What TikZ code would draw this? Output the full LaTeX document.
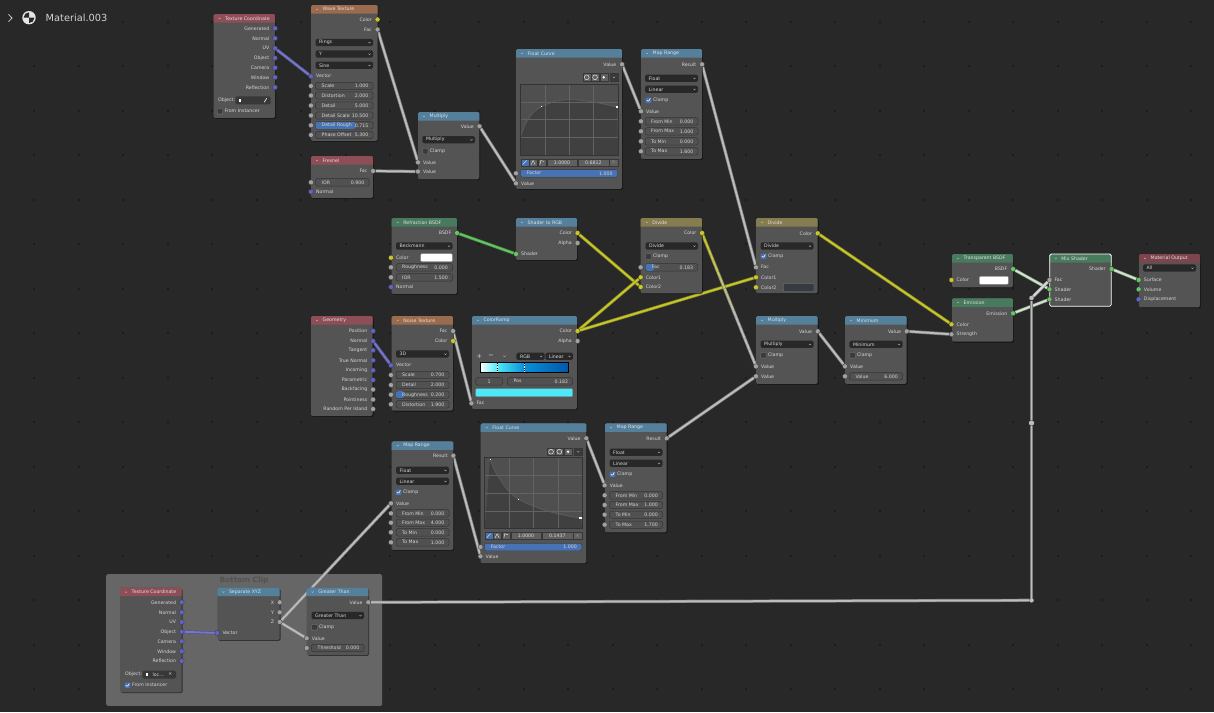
\documentclass[tikz,border=0pt]{standalone}
\usepackage{fontspec}
\setmainfont{DejaVu Sans}
\usetikzlibrary{calc,shadows}
\pgfdeclarelayer{backdrop}
\pgfdeclarelayer{wires}
\pgfsetlayers{backdrop,wires,main}
\definecolor{bgc}{HTML}{282828}
\definecolor{griddot}{HTML}{1C1C1C}
\definecolor{framec}{HTML}{666666}
\definecolor{panelc}{HTML}{545454}
\definecolor{hdred}{HTML}{8F4D58}
\definecolor{hdbrown}{HTML}{9A6B4C}
\definecolor{hdblue}{HTML}{55809C}
\definecolor{hdgreen}{HTML}{487A5D}
\definecolor{hdolive}{HTML}{857D4F}
\definecolor{hdout}{HTML}{7E444E}
\definecolor{valc}{HTML}{A1A1A1}
\definecolor{colc}{HTML}{C7C729}
\definecolor{vecc}{HTML}{6363C7}
\definecolor{shc}{HTML}{63C763}
\definecolor{wirec}{HTML}{BDBDBD}
\definecolor{sliderc}{HTML}{4772B3}
\definecolor{palegreen}{HTML}{CFE8CB}
\definecolor{darkswatch}{HTML}{363B42}
\definecolor{rampA}{HTML}{4EE9F9}
\definecolor{rampB}{HTML}{0A8FD8}
\definecolor{rampC}{HTML}{0058AC}
\newcommand{\nodepanel}[7]{
	\node[panelbox,minimum width=#4pt,minimum height=#5pt] (#1) at (#2,#3) {};
	\fill[#6] ([yshift=-8.5pt]#1.north west) [rounded corners=1.5pt] -- (#1.north west) --
	(#1.north east) [sharp corners] -- ([yshift=-8.5pt]#1.north east) -- cycle;
	\node[txt,text=white!88!black,anchor=west] (#1t) at ([xshift=11.5pt,yshift=-4.3pt]#1.north west) {#7};
	\draw[chevline] ([xshift=5pt,yshift=-3.8pt]#1.north west) -- ([xshift=6pt,yshift=-4.8pt]#1.north west) --
	([xshift=7pt,yshift=-3.8pt]#1.north west);
}
\newcommand{\outsock}[5]{
	\node[socket,fill=#4] (#1) at (#2,#3) {};
	\node[txt,anchor=east] (#1l) at ([xshift=-5.5pt]#1.center) {#5};
}
\newcommand{\insock}[5]{
	\node[socket,fill=#4] (#1) at (#2,#3) {};
	\node[txt,anchor=west] (#1l) at ([xshift=5pt]#1.center) {#5};
}
\newcommand{\fieldrow}[7][0]{
	\node[fieldbox,minimum width={(#4-#3)*1pt}] (#2) at (#3,#5) {};
	\ifdim#1pt>0pt \fill[sliderc,rounded corners=2pt] (#3,#5-3.5) rectangle (#1,#5+3.5);\fi
	\node[txt,anchor=west] (#2l) at ([xshift=6pt]#2.west) {#6};
	\node[txt,anchor=east] (#2v) at ([xshift=-4.5pt]#2.east) {#7};
}
\newcommand{\valrow}[8][0]{
	\node[socket,fill=valc] (#2s) at (#3,#6) {};
	\fieldrow[#1]{#2}{#4}{#5}{#6}{#7}{#8}
}
\newcommand{\droprow}[5]{
	\node[dropbox,minimum width={(#3-#2)*1pt}] (#1) at (#2,#4) {};
	\node[txt,anchor=west] (#1l) at ([xshift=3.5pt]#1.west) {#5};
	\draw[chevline] ([xshift=-4.5pt,yshift=.4pt]#1.east) -- ([xshift=-3.5pt,yshift=-.6pt]#1.east) --
	([xshift=-2.5pt,yshift=.4pt]#1.east);
}
\newcommand{\checkrow}[5]{
	\node[#5] (#1) at (#2,#3) {};
	\node[txt,anchor=west] (#1l) at ([xshift=1.5pt]#1.east) {#4};
}
\newcommand{\swatch}[5]{
	\node[swatchbox,fill=#5,minimum width={(#3-#2)*1pt}] (#1) at (#2,#4) {};
}
\newcommand{\objrow}[6]{
	\node[txt,anchor=west] (#1l) at (#2,#5) {Object:};
	\node[dropbox,fill=black!78,minimum width={(#4-#3)*1pt},minimum height=8pt] (#1) at (#3,#5) {};
	\node[cubedot] (#1i) at ([xshift=4.5pt]#1.west) {};
	\node[txt,anchor=west] (#1n) at ([xshift=10pt]#1.west) {#6};
}
\newcommand{\curvearea}[6]{
	\node[curvebox,minimum width={(#4-#2)*1pt},minimum height={(#5-#3)*1pt}] (#1) at (#2,#3) {};
	\fill[black!24!panelc] #6 -- (#1.south east) -- (#1.south west) -- cycle;
	\foreach \k in {.25,.5,.75} {
		\draw[gridline] ($(#1.north west)!\k!(#1.north east)$) -- ($(#1.south west)!\k!(#1.south east)$);
		\draw[gridline] ($(#1.north west)!\k!(#1.south west)$) -- ($(#1.north east)!\k!(#1.south east)$);
	}
	\draw[black!62,line width=.6pt] #6;
	\draw[black!80,line width=.7pt] (#1.north west) rectangle (#1.south east);
}
\newcommand{\curvetools}[3]{
	\node[toolbtn,minimum width=8pt] (#1a) at (#2-35.3,#3) {};
	\node[toolbtn,minimum width=8pt] (#1b) at (#2-27,#3) {};
	\node[toolbtn,minimum width=8pt] (#1c) at (#2-18.3,#3) {};
	\node[toolbtn,fill=black!32!panelc,minimum width=8pt] (#1d) at (#2-8,#3) {};
	\draw[white,line width=.35pt] (#1a.center) circle[radius=2.4pt] (#1b.center) circle[radius=2.4pt];
	\fill[white] (#1c.center) circle[radius=1.3pt];
	\draw[chevline] ([xshift=-1pt,yshift=.5pt]#1d.center) -- ([yshift=-.5pt]#1d.center) -- ([xshift=1pt,yshift=.5pt]#1d.center);
}
\newcommand{\curvebtns}[5]{
	\node[toolbtn,fill=sliderc,minimum width=8pt] (#1a) at (#2,#3) {};
	\node[toolbtn,minimum width=8.3pt] (#1b) at (#2+8.3,#3) {};
	\node[toolbtn,minimum width=8.3pt] (#1c) at (#2+17,#3) {};
	\node[toolbtn,minimum width=30.6pt] (#1d) at (#2+26,#3) {#4};
	\node[toolbtn,minimum width=31.3pt] (#1e) at (#2+57,#3) {#5};
	\node[toolbtn,text=white!60!black,minimum width=8.4pt] (#1f) at (#2+88.6,#3) {×};
	\draw[white,line width=.35pt] ([xshift=-2pt,yshift=-2pt]#1a.center) -- ([xshift=2pt,yshift=2pt]#1a.center);
	\draw[white,line width=.35pt] ([xshift=-2pt,yshift=-2pt]#1b.center) -- ([yshift=2pt]#1b.center) -- ([xshift=2pt,yshift=-2pt]#1b.center);
	\draw[white,line width=.35pt] ([xshift=-2pt,yshift=-2pt]#1c.center) -- ([xshift=-1pt,yshift=2pt]#1c.center) -- ([xshift=2pt,yshift=1pt]#1c.center);
}
\newcommand{\gradwire}[4]{
	\foreach \i in {0,...,23} {
		\pgfmathsetmacro\ta{\i/24}
		\pgfmathsetmacro\tb{(\i+1)/24}
		\pgfmathsetmacro\mv{min(100,100*\i/15)}
		\draw[wire=#4!\mv!#3] ($(#1.center)!\ta!(#2.center)$) -- ($(#1.center)!\tb!(#2.center)$);
	}
}
\begin{document}
\begin{tikzpicture}[x=1pt,y=-1pt,
	txt/.style={inner sep=0pt,text=white!84!black,font=\fontsize{4.7}{5}\selectfont},
	panelbox/.style={anchor=north west,inner sep=0pt,outer sep=0pt,fill=panelc,rounded corners=1.5pt,
		drop shadow={fill=black,opacity=.55,shadow xshift=.8pt,shadow yshift=-.8pt}},
	socket/.style={circle,draw=black!80,line width=.25pt,inner sep=0pt,minimum size=5pt},
	fieldbox/.style={anchor=west,inner sep=0pt,outer sep=0pt,minimum height=7.4pt,rounded corners=2pt,draw=black!38!panelc,line width=.5pt,fill=black!4!panelc},
	dropbox/.style={anchor=west,inner sep=0pt,outer sep=0pt,minimum height=7.2pt,rounded corners=1.5pt,fill=bgc},
	swatchbox/.style={anchor=west,inner sep=0pt,outer sep=0pt,minimum height=8pt,rounded corners=1pt,draw=black!50,line width=.3pt},
	chkoff/.style={inner sep=0pt,minimum size=5.6pt,rounded corners=.8pt,fill=black!30!panelc,draw=black!50,line width=.3pt},
	chkon/.style={inner sep=0pt,minimum size=5.6pt,rounded corners=.8pt,fill=sliderc,
		path picture={\draw[white,line width=.6pt] ([xshift=1.2pt]path picture bounding box.west) --
			([yshift=1.5pt]path picture bounding box.south) -- ([xshift=-1pt,yshift=-1pt]path picture bounding box.north east);}},
	chevline/.style={draw=white!75!black,line width=.35pt},
	curvebox/.style={anchor=north west,inner sep=0pt,outer sep=0pt,fill=black!6!panelc},
	gridline/.style={draw=white!9!panelc,line width=.45pt},
	toolbtn/.style={anchor=west,inner sep=0pt,outer sep=0pt,minimum height=7.6pt,fill=white!7!panelc,draw=black!35!panelc,line width=.3pt,
		text=white!84!black,font=\fontsize{4.7}{5}\selectfont},
	cubedot/.style={inner sep=0pt,minimum size=2.6pt,fill=white},
	reroute/.style={circle,inner sep=0pt,minimum size=4.6pt,fill=wirec},
	wire/.style={draw=#1,line width=1.8pt,preaction={draw=#1!58!bgc,line width=3.2pt}}]
	\useasboundingbox (0,0) rectangle (1214,712);
	\begin{pgfonlayer}{backdrop}
		\fill[bgc] (0,0) rectangle (1214,712);
		\foreach \dx in {0,...,26} {
			\foreach \dy in {0,...,15} {
				\fill[griddot] ({33.3+44.5*\dx},{20.5+44.5*\dy}) rectangle ++(2,2);
			}
		}
		\node[anchor=north west,inner sep=0pt,fill=framec,rounded corners=1.5pt,minimum width=276pt,minimum height=131.7pt] (clipframe) at (106,574) {};
		\node[inner sep=0pt,text=black!20!framec,font=\fontsize{7.4}{8}\selectfont\bfseries] (cliptitle) at (244,580.5) {Bottom Clip};
	\end{pgfonlayer}

	\draw[white!80!black,line width=.8pt] (8.5,14.3) -- (12,18) -- (8.5,21.7);
	\node[circle,fill=white!90!black,inner sep=0pt,minimum size=13.4pt] (matIcon) at (29,17.7) {};
	\fill[bgc] (matIcon.center) -- ++(-5.4,0) arc[start angle=180,end angle=90,radius=5.4pt] -- cycle;
	\fill[bgc] (matIcon.center) -- ++(5.4,0) arc[start angle=0,end angle=-90,radius=5.4pt] -- cycle;
	\node[inner sep=0pt,anchor=west,text=white!82!black,font=\fontsize{9.8}{11}\selectfont] (matName) at (45.5,18) {Material.003};

	\nodepanel{tcA}{213.5}{14}{61.5}{104}{hdred}{Texture Coordinate}
	\outsock{tcA-gen}{275}{28.3}{vecc}{Generated}
	\outsock{tcA-nor}{275}{38.3}{vecc}{Normal}
	\outsock{tcA-uv}{275}{48.3}{vecc}{UV}
	\outsock{tcA-obj}{275}{58}{vecc}{Object}
	\outsock{tcA-cam}{275}{67.7}{vecc}{Camera}
	\outsock{tcA-win}{275}{77.3}{vecc}{Window}
	\outsock{tcA-ref}{275}{87.3}{vecc}{Reflection}
	\objrow{tcA-o}{218}{235.3}{270.7}{100.3}{}
	\draw[white,line width=.6pt] ([xshift=-6.5pt,yshift=-2pt]tcA-o.east) -- ([xshift=-4pt,yshift=2pt]tcA-o.east);
	\checkrow{tcA-fi}{220}{111.3}{From Instancer}{chkoff}

	\nodepanel{wave}{311}{5}{66.5}{136}{hdbrown}{Wave Texture}
	\outsock{wave-col}{377.5}{19.5}{colc}{Color}
	\outsock{wave-fac}{377.5}{29.5}{valc}{Fac}
	\droprow{wave-a}{315.5}{373}{42.5}{Rings}
	\droprow{wave-b}{315.5}{373}{54}{Y}
	\droprow{wave-c}{315.5}{373}{65.3}{Sine}
	\insock{wave-vec}{311}{76.3}{vecc}{Vector}
	\valrow{wave-sc}{311}{315.5}{373}{86}{Scale}{1.000}
	\valrow{wave-di}{311}{315.5}{373}{95.5}{Distortion}{2.000}
	\valrow{wave-de}{311}{315.5}{373}{105.5}{Detail}{5.000}
	\valrow{wave-ds}{311}{315.5}{373}{115.5}{Detail Scale}{10.500}
	\valrow[355.5]{wave-dr}{311}{315.5}{373}{125.3}{Detail Rough}{0.715}
	\valrow{wave-po}{311}{315.5}{373}{135}{Phase Offset}{5.300}

	\nodepanel{fres}{311}{156}{62}{42}{hdred}{Fresnel}
	\outsock{fres-fac}{373}{171}{valc}{Fac}
	\valrow{fres-ior}{311}{315.5}{369}{182.3}{IOR}{0.900}
	\insock{fres-nor}{311}{191.7}{vecc}{Normal}

	\nodepanel{mulA}{418}{112}{61.3}{67.3}{hdblue}{Multiply}
	\outsock{mulA-out}{479.5}{126.3}{valc}{Value}
	\droprow{mulA-op}{422.3}{475}{139.7}{Multiply}
	\checkrow{mulA-cl}{425.3}{151.2}{Clamp}{chkoff}
	\insock{mulA-a}{418}{162.3}{valc}{Value}
	\insock{mulA-b}{418}{171.5}{valc}{Value}

	\nodepanel{fcA}{516}{49}{106}{140}{hdblue}{Float Curve}
	\outsock{fcA-out}{622}{64.3}{valc}{Value}
	\curvetools{fcA-t}{618}{77.3}
	\curvearea{fcA-g}{520.7}{84}{618}{155}{(520.7,136.7) .. controls (526,118) and (534,110) .. (541.7,106.7) .. controls (552,101.5) and (560,99.7) .. (569.3,99.7) .. controls (585,100) and (600,103) .. (617,107)}
	\node[cubedot] (fcA-p) at (617,107) {};
	\node[cubedot,minimum size=1pt] (fcA-q) at (541.7,106.7) {};
	\curvebtns{fcA-b}{520.7}{162.5}{1.0000}{0.6812}
	\valrow[617.3]{fcA-fac}{516}{520.7}{617.3}{173.3}{Factor}{1.000}
	\insock{fcA-val}{516}{183.3}{valc}{Value}

	\nodepanel{mrA}{641}{49}{61}{110}{hdblue}{Map Range}
	\outsock{mrA-out}{702}{64.3}{valc}{Result}
	\droprow{mrA-t}{645}{698}{78.3}{Float}
	\droprow{mrA-i}{645}{698}{89.3}{Linear}
	\checkrow{mrA-cl}{648.5}{100.3}{Clamp}{chkon}
	\insock{mrA-val}{641}{111.3}{valc}{Value}
	\valrow{mrA-fm}{641}{645}{698}{121.3}{From Min}{0.000}
	\valrow{mrA-fx}{641}{645}{698}{131.3}{From Max}{1.000}
	\valrow{mrA-tm}{641}{645}{698}{141.3}{To Min}{0.000}
	\valrow{mrA-tx}{641}{645}{698}{151.3}{To Max}{1.600}

	\nodepanel{refr}{391.7}{218}{65.3}{76}{hdgreen}{Refraction BSDF}
	\outsock{refr-out}{457}{233}{shc}{BSDF}
	\droprow{refr-d}{396}{452.5}{246}{Beckmann}
	\insock{refr-col}{391}{257.7}{colc}{Color}
	\swatch{refr-sw}{420.7}{452.3}{257.7}{white}
	\valrow{refr-ro}{391}{396}{452.5}{267.3}{Roughness}{0.000}
	\valrow{refr-ior}{391}{396}{452.5}{277.3}{IOR}{1.500}
	\insock{refr-nor}{391}{287}{vecc}{Normal}

	\nodepanel{srgb}{516}{218}{61}{42}{hdblue}{Shader to RGB}
	\outsock{srgb-col}{577.5}{233}{colc}{Color}
	\outsock{srgb-alp}{577.5}{243}{valc}{Alpha}
	\insock{srgb-sh}{516}{254}{shc}{Shader}

	\nodepanel{divA}{640.7}{218}{61.3}{75.3}{hdolive}{Divide}
	\outsock{divA-out}{702}{233}{colc}{Color}
	\droprow{divA-op}{645.5}{698}{246}{Divide}
	\checkrow{divA-cl}{648.5}{256.5}{Clamp}{chkoff}
	\valrow[654]{divA-fac}{640.7}{645.7}{697.7}{267.3}{Fac}{0.183}
	\insock{divA-a}{640.7}{277.3}{colc}{Color1}
	\insock{divA-b}{640.7}{287}{colc}{Color2}

	\nodepanel{geom}{311}{316}{61.7}{100}{hdred}{Geometry}
	\outsock{geom-pos}{373}{331}{vecc}{Position}
	\outsock{geom-nor}{373}{341}{vecc}{Normal}
	\outsock{geom-tan}{373}{350.3}{vecc}{Tangent}
	\outsock{geom-tn}{373}{360.3}{vecc}{True Normal}
	\outsock{geom-inc}{373}{370.3}{vecc}{Incoming}
	\outsock{geom-par}{373}{380}{vecc}{Parametric}
	\outsock{geom-bf}{373}{389.5}{valc}{Backfacing}
	\outsock{geom-pt}{373}{399.5}{valc}{Pointiness}
	\outsock{geom-rnd}{373}{409}{valc}{Random Per Island}

	\nodepanel{noise}{391.7}{316}{61.3}{94.7}{hdbrown}{Noise Texture}
	\outsock{noise-fac}{453}{331}{valc}{Fac}
	\outsock{noise-col}{453}{341}{colc}{Color}
	\droprow{noise-d}{396}{449}{354}{3D}
	\insock{noise-vec}{391}{365.3}{vecc}{Vector}
	\valrow{noise-sc}{391}{396}{449}{375}{Scale}{0.700}
	\valrow{noise-de}{391}{396}{449}{385}{Detail}{2.000}
	\valrow[404]{noise-ro}{391}{396}{449}{394.7}{Roughness}{0.200}
	\valrow{noise-di}{391}{396}{449}{404.3}{Distortion}{1.900}

	\nodepanel{ramp}{472}{316}{105}{93.3}{hdblue}{ColorRamp}
	\outsock{ramp-col}{577.5}{331}{colc}{Color}
	\outsock{ramp-alp}{577.5}{341}{valc}{Alpha}
	\node[txt,font=\fontsize{6.5}{7}\selectfont] (ramp-add) at (479.3,356) {+};
	\node[txt,font=\fontsize{6.5}{7}\selectfont] (ramp-sub) at (491,356) {−};
	\draw[chevline] (503,355.5) -- (504.3,356.8) -- (505.6,355.5);
	\droprow{ramp-m}{516.3}{544.7}{356.3}{RGB}
	\droprow{ramp-n}{545.3}{573}{356.3}{Linear}
	\node[anchor=north west,inner sep=0pt,outer sep=0pt,minimum width=88pt,minimum height=9.7pt] (ramp-bar) at (480.3,362.3) {};
	\shade[left color=white,right color=rampA] (ramp-bar.north west) rectangle ($(ramp-bar.south west)!.19!(ramp-bar.south east)$);
	\shade[left color=rampA,right color=rampB] ($(ramp-bar.north west)!.19!(ramp-bar.north east)$) rectangle ($(ramp-bar.south west)!.5!(ramp-bar.south east)$);
	\shade[left color=rampB,right color=rampC] ($(ramp-bar.north west)!.5!(ramp-bar.north east)$) rectangle (ramp-bar.south east);
	\draw[white,line width=.6pt] ($(ramp-bar.north west)!.19!(ramp-bar.north east)$) -- ($(ramp-bar.south west)!.19!(ramp-bar.south east)$);
	\draw[black,line width=.6pt,dash pattern=on 1.3pt off 1.3pt] ($(ramp-bar.north west)!.19!(ramp-bar.north east)$) -- ($(ramp-bar.south west)!.19!(ramp-bar.south east)$);
	\draw[white,line width=.6pt] ($(ramp-bar.north west)!.5!(ramp-bar.north east)$) -- ($(ramp-bar.south west)!.5!(ramp-bar.south east)$);
	\draw[black,line width=.6pt,dash pattern=on 1.3pt off 1.3pt] ($(ramp-bar.north west)!.5!(ramp-bar.north east)$) -- ($(ramp-bar.south west)!.5!(ramp-bar.south east)$);
	\draw[black,line width=.7pt] (ramp-bar.north west) rectangle (ramp-bar.south east);
	\node[fieldbox,minimum width=27pt,text=white!84!black,font=\fontsize{4.7}{5}\selectfont] (ramp-i) at (475.7,381.3) {1};
	\fieldrow{ramp-pos}{507.3}{572.7}{381.3}{Pos}{0.182}
	\swatch{ramp-sw}{475.7}{572.7}{392.7}{rampA}
	\insock{ramp-fac}{471.5}{403.3}{valc}{Fac}

	\nodepanel{divB}{756}{218}{61.7}{75.3}{hdolive}{Divide}
	\outsock{divB-out}{817.7}{233.3}{colc}{Color}
	\droprow{divB-op}{760.5}{813.5}{246}{Divide}
	\checkrow{divB-cl}{763.5}{256.3}{Clamp}{chkon}
	\insock{divB-fac}{756}{267.3}{valc}{Fac}
	\insock{divB-a}{756}{277.3}{colc}{Color1}
	\insock{divB-b}{756}{287.3}{colc}{Color2}
	\swatch{divB-sw}{783.3}{814}{287.5}{darkswatch}

	\nodepanel{mulB}{756}{316}{61.7}{68}{hdblue}{Multiply}
	\outsock{mulB-out}{817.7}{331.3}{valc}{Value}
	\droprow{mulB-op}{760.5}{813.5}{344.3}{Multiply}
	\checkrow{mulB-cl}{763.5}{355.3}{Clamp}{chkoff}
	\insock{mulB-a}{756}{366.3}{valc}{Value}
	\insock{mulB-b}{756}{376.3}{valc}{Value}

	\nodepanel{minm}{845}{316}{61.7}{68}{hdblue}{Minimum}
	\outsock{minm-out}{906.7}{331.3}{valc}{Value}
	\droprow{minm-op}{849.3}{902.5}{344.3}{Minimum}
	\checkrow{minm-cl}{852.5}{355.3}{Clamp}{chkoff}
	\insock{minm-a}{845}{366.3}{valc}{Value}
	\valrow{minm-b}{845}{849.3}{902.5}{376.3}{Value}{6.000}

	\nodepanel{trans}{952}{254}{61}{33.3}{hdgreen}{Transparent BSDF}
	\outsock{trans-out}{1013}{269}{shc}{BSDF}
	\insock{trans-col}{951.5}{280}{colc}{Color}
	\swatch{trans-sw}{979.3}{1008.3}{280.3}{white}

	\nodepanel{emis}{952}{298.3}{61}{43.4}{hdgreen}{Emission}
	\outsock{emis-out}{1013}{313.3}{shc}{Emission}
	\insock{emis-col}{951.5}{324.3}{colc}{Color}
	\insock{emis-str}{951.5}{334.3}{valc}{Strength}

	\nodepanel{mix}{1049.7}{254}{61.6}{52.3}{hdgreen}{Mix Shader}
	\draw[white,line width=.8pt,rounded corners=1.5pt] (mix.north west) rectangle (mix.south east);
	\outsock{mix-out}{1111.5}{269}{shc}{Shader}
	\insock{mix-fac}{1049.5}{280}{valc}{Fac}
	\insock{mix-a}{1049.5}{289.3}{shc}{Shader}
	\insock{mix-b}{1049.5}{299.3}{shc}{Shader}

	\nodepanel{matout}{1139}{254}{61}{53.3}{hdout}{Material Output}
	\droprow{matout-t}{1143}{1196}{268}{All}
	\insock{matout-s}{1138.7}{280}{shc}{Surface}
	\insock{matout-v}{1138.7}{289.3}{shc}{Volume}
	\insock{matout-d}{1138.7}{299.3}{vecc}{Displacement}

	\nodepanel{mrB}{391.7}{441.3}{61.6}{108.7}{hdblue}{Map Range}
	\outsock{mrB-out}{453.3}{455.7}{valc}{Result}
	\droprow{mrB-t}{396}{449}{470.3}{Float}
	\droprow{mrB-i}{396}{449}{481.3}{Linear}
	\checkrow{mrB-cl}{398.5}{492.3}{Clamp}{chkon}
	\insock{mrB-val}{391}{503.3}{valc}{Value}
	\valrow{mrB-fm}{391}{396}{449}{513.3}{From Min}{0.000}
	\valrow{mrB-fx}{391}{396}{449}{522.7}{From Max}{4.000}
	\valrow{mrB-tm}{391}{396}{449}{532.3}{To Min}{0.000}
	\valrow{mrB-tx}{391}{396}{449}{542.3}{To Max}{1.000}

	\nodepanel{fcB}{480.7}{423.3}{105.6}{140}{hdblue}{Float Curve}
	\outsock{fcB-out}{586.3}{438.3}{valc}{Value}
	\curvetools{fcB-t}{582.3}{451.7}
	\curvearea{fcB-g}{484.7}{457.7}{582.3}{528.7}{(490,459) .. controls (493,467) and (495,472) .. (498.3,476.7) .. controls (504,486) and (510,494) .. (518,499) .. controls (526,503) and (532,506) .. (538.3,508) .. controls (552,513) and (566,516) .. (580.7,518)}
	\node[cubedot] (fcB-p) at (580.7,518) {};
	\node[cubedot,minimum size=1pt] (fcB-q) at (518,499) {};
	\node[cubedot,minimum size=1pt] (fcB-r) at (490,459) {};
	\curvebtns{fcB-b}{484.7}{535.7}{1.0000}{0.1437}
	\valrow[581.5]{fcB-fac}{480.5}{484.7}{581.5}{547}{Factor}{1.000}
	\insock{fcB-val}{480.5}{556.3}{valc}{Value}

	\nodepanel{mrC}{605}{423.3}{61.7}{109}{hdblue}{Map Range}
	\outsock{mrC-out}{666.7}{438.3}{valc}{Result}
	\droprow{mrC-t}{609.5}{662.5}{452.3}{Float}
	\droprow{mrC-i}{609.5}{662.5}{463.3}{Linear}
	\checkrow{mrC-cl}{612.5}{474.3}{Clamp}{chkon}
	\insock{mrC-val}{604.7}{485.3}{valc}{Value}
	\valrow{mrC-fm}{604.7}{609.5}{662.5}{495.3}{From Min}{0.000}
	\valrow{mrC-fx}{604.7}{609.5}{662.5}{505}{From Max}{1.000}
	\valrow{mrC-tm}{604.7}{609.5}{662.5}{514.7}{To Min}{0.000}
	\valrow{mrC-tx}{604.7}{609.5}{662.5}{524.7}{To Max}{1.700}

	\nodepanel{tcB}{120}{587.7}{61.7}{104.6}{hdred}{Texture Coordinate}
	\outsock{tcB-gen}{181.7}{602.3}{vecc}{Generated}
	\outsock{tcB-nor}{181.7}{612.3}{vecc}{Normal}
	\outsock{tcB-uv}{181.7}{622}{vecc}{UV}
	\outsock{tcB-obj}{181.7}{631.7}{vecc}{Object}
	\outsock{tcB-cam}{181.7}{641.3}{vecc}{Camera}
	\outsock{tcB-win}{181.7}{651.3}{vecc}{Window}
	\outsock{tcB-ref}{181.7}{661}{vecc}{Reflection}
	\objrow{tcB-o}{125}{142.3}{176}{674.5}{loc...}
	\node[txt,anchor=east] (tcB-x) at ([xshift=-3.5pt]tcB-o.east) {×};
	\checkrow{tcB-fi}{127.5}{685.3}{From Instancer}{chkon}

	\nodepanel{sep}{217.3}{587.7}{62.4}{52.3}{hdblue}{Separate XYZ}
	\outsock{sep-x}{279.7}{602.3}{valc}{X}
	\outsock{sep-y}{279.7}{612.3}{valc}{Y}
	\outsock{sep-z}{279.7}{622}{valc}{Z}
	\insock{sep-vec}{217.3}{633}{vecc}{Vector}

	\nodepanel{gt}{306.7}{587.7}{61.6}{67.3}{hdblue}{Greater Than}
	\outsock{gt-out}{368.3}{602.3}{valc}{Value}
	\droprow{gt-op}{311.5}{364}{615.5}{Greater Than}
	\checkrow{gt-cl}{314.5}{627.3}{Clamp}{chkoff}
	\insock{gt-a}{306.7}{638.3}{valc}{Value}
	\valrow{gt-b}{306.7}{311.5}{364}{648}{Threshold}{0.000}

	\node[reroute] (rrA) at (1031.5,600.3) {};
	\node[reroute,minimum size=5.4pt] (rrB) at (1031.5,423) {};
	\node[reroute] (rrC) at (1031.5,298) {};

	\begin{pgfonlayer}{wires}
		\draw[wire=vecc!88!white] (tcA-uv) -- (wave-vec);
		\draw[wire=wirec] (wave-fac) -- (mulA-a);
		\draw[wire=wirec] (fres-fac) -- (mulA-b);
		\draw[wire=wirec] (mulA-out) -- (fcA-val);
		\draw[wire=wirec] (fcA-out) -- (mrA-val);
		\draw[wire=wirec] (mrA-out) -- (divB-fac);
		\draw[wire=shc] (refr-out) -- (srgb-sh);
		\draw[wire=colc] (srgb-col) -- (divA-b);
		\draw[wire=colc] (ramp-col) -- (divA-a);
		\draw[wire=colc] (ramp-col) -- (divB-a);
		\gradwire{divA-out}{mulB-a}{colc}{wirec}
		\draw[wire=wirec] (noise-fac) -- (ramp-fac);
		\draw[wire=vecc!88!white] (geom-nor) -- (noise-vec);
		\draw[wire=wirec] (mulB-out) -- (minm-a);
		\draw[wire=wirec] (minm-out) -- (emis-str);
		\draw[wire=colc] (divB-out) -- (emis-col);
		\draw[wire=palegreen] (trans-out) -- (mix-a);
		\draw[wire=palegreen] (emis-out) -- (mix-b);
		\draw[wire=palegreen] (mix-out) -- (matout-s);
		\draw[wire=wirec] (gt-out) -- (rrA);
		\draw[wire=wirec] (rrA) -- (rrB);
		\draw[wire=wirec] (rrB) -- (rrC);
		\draw[wire=white!85!black] (rrC) -- (mix-fac);
		\draw[wire=wirec] (sep-z) -- (gt-a);
		\draw[wire=wirec] (sep-z) -- (mrB-val);
		\draw[wire=vecc!88!white] (tcB-obj) -- (sep-vec);
		\draw[wire=wirec] (mrB-out) -- (fcB-val);
		\draw[wire=wirec] (fcB-out) -- (mrC-val);
		\draw[wire=wirec] (mrC-out) -- (mulB-b);
	\end{pgfonlayer}
\end{tikzpicture}
\end{document}
